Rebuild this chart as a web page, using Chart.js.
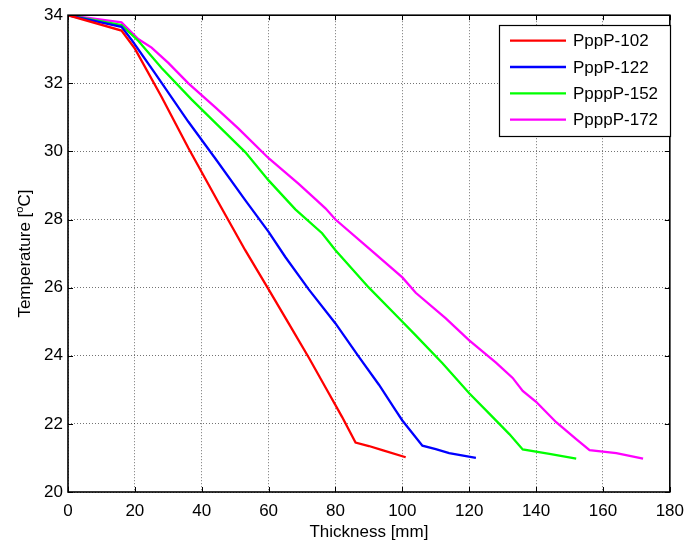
<!DOCTYPE html>
<html>
<head>
<meta charset="utf-8">
<script src="https://cdn.jsdelivr.net/npm/chart.js@4.4.0/dist/chart.umd.min.js"></script>
<style>
  body { margin: 0; background: #fff; }
  canvas { display: block; }
</style>
</head>
<body>
<canvas id="tempChart" width="693" height="544"></canvas>
<script>
// values
const redX = [0, 16, 20, 28, 36, 45, 53, 60, 66, 72, 78, 82, 86, 90, 94, 101];
const redY = [34, 33.55, 33.02, 31.6, 30.1, 28.5, 27.1, 25.95, 24.95, 23.95, 22.9, 22.2, 21.45, 21.35, 21.23, 21.02];

const blueX = [0, 16, 19, 26, 36, 44, 53, 60, 65, 72, 80, 87, 93, 98, 100, 106, 110, 114, 122];
const blueY = [34, 33.66, 33.28, 32.3, 30.87, 29.8, 28.57, 27.64, 26.9, 25.95, 24.95, 23.97, 23.15, 22.4, 22.1, 21.36, 21.26, 21.14, 21.0];

const greenX = [0, 16, 21, 28, 37, 45, 53, 60, 68, 76, 80, 90, 99, 104, 112, 120, 126, 132, 136, 144, 152];
const greenY = [34, 33.71, 33.25, 32.45, 31.52, 30.75, 29.98, 29.15, 28.3, 27.6, 27.1, 26.0, 25.1, 24.6, 23.78, 22.9, 22.3, 21.7, 21.25, 21.12, 20.98];

const magentaX = [0, 16, 21, 25, 30, 36, 44, 51, 60, 69, 74, 77, 80, 90, 100, 104, 113, 120, 128, 133, 136, 140, 146, 152, 156, 164, 172];
const magentaY = [34, 33.79, 33.3, 33.05, 32.6, 32.0, 31.3, 30.67, 29.8, 29.05, 28.6, 28.33, 28.0, 27.15, 26.3, 25.85, 25.1, 24.45, 23.8, 23.35, 22.97, 22.65, 22.05, 21.55, 21.23, 21.14, 20.98];

const seriesNames = ['PppP-102', 'PppP-122', 'PpppP-152', 'PpppP-172'];
const xTicks = [0, 20, 40, 60, 80, 100, 120, 140, 160, 180];
const yTicks = [20, 22, 24, 26, 28, 30, 32, 34];

const FONT = "'Liberation Sans', Arial, sans-serif";

const toPoints = (xs, ys) => xs.map((x, i) => ({ x: x, y: ys[i] }));

const makeSet = (label, xs, ys, color) => ({
  label: label,
  data: toPoints(xs, ys),
  borderColor: color,
  backgroundColor: color,
  borderWidth: 2.3,
  pointRadius: 0,
  tension: 0,
  fill: false
});

// axes box, inward ticks, y title and boxed legend like the original figure
const framePlugin = {
  id: 'frame',
  afterDatasetsDraw(chart) {
    const { ctx, chartArea: a, scales: { x, y } } = chart;
    ctx.save();

    ctx.strokeStyle = '#000';
    ctx.lineWidth = 1;
    ctx.beginPath();
    xTicks.forEach(v => {
      const px = Math.round(x.getPixelForValue(v)) + 0.5;
      ctx.moveTo(px, a.bottom); ctx.lineTo(px, a.bottom - 5);
      ctx.moveTo(px, a.top); ctx.lineTo(px, a.top + 5);
    });
    yTicks.forEach(v => {
      const py = Math.round(y.getPixelForValue(v)) + 0.5;
      ctx.moveTo(a.left, py); ctx.lineTo(a.left + 5, py);
      ctx.moveTo(a.right, py); ctx.lineTo(a.right - 5, py);
    });
    ctx.stroke();

    ctx.lineWidth = 1.6;
    ctx.strokeRect(a.left, a.top, a.right - a.left, a.bottom - a.top);

    // y axis title with a raised small "o"
    ctx.fillStyle = '#000';
    ctx.translate(25, (a.top + a.bottom) / 2);
    ctx.rotate(-Math.PI / 2);
    ctx.textBaseline = 'middle';
    const p1 = 'Temperature [', p3 = 'C]';
    ctx.font = '17px ' + FONT;
    const w1 = ctx.measureText(p1).width;
    const w3 = ctx.measureText(p3).width;
    ctx.font = '11px ' + FONT;
    const w2 = ctx.measureText('o').width;
    let sx = -(w1 + w2 + w3) / 2;
    ctx.font = '17px ' + FONT;
    ctx.textAlign = 'left';
    ctx.fillText(p1, sx, 0);
    ctx.font = '11px ' + FONT;
    ctx.fillText('o', sx + w1, -5);
    ctx.font = '17px ' + FONT;
    ctx.fillText(p3, sx + w1 + w2, 0);
    ctx.setTransform(1, 0, 0, 1, 0, 0);

    // legend
    const bx = 499.5, by = 25.5, bw = 171, bh = 111;
    ctx.fillStyle = '#fff';
    ctx.fillRect(bx, by, bw, bh);
    ctx.lineWidth = 1.2;
    ctx.strokeStyle = '#000';
    ctx.strokeRect(bx, by, bw, bh);
    ctx.font = '17px ' + FONT;
    ctx.textAlign = 'left';
    ctx.textBaseline = 'middle';
    chart.data.datasets.forEach((ds, i) => {
      const ry = 40.7 + i * 26.3;
      ctx.strokeStyle = ds.borderColor;
      ctx.lineWidth = 2.3;
      ctx.beginPath();
      ctx.moveTo(510, ry);
      ctx.lineTo(566, ry);
      ctx.stroke();
      ctx.fillStyle = '#000';
      ctx.fillText(ds.label, 573, ry + 1);
    });

    ctx.restore();
  }
};

const ctx = document.getElementById('tempChart').getContext('2d');

const tempChart = new Chart(ctx, {
  type: 'line',
  data: {
    datasets: [
      makeSet(seriesNames[0], redX, redY, '#ff0000'),
      makeSet(seriesNames[1], blueX, blueY, '#0000ff'),
      makeSet(seriesNames[2], greenX, greenY, '#00ff00'),
      makeSet(seriesNames[3], magentaX, magentaY, '#ff00ff')
    ]
  },
  options: {
    responsive: false,
    animation: false,
    layout: { padding: { top: 15, right: 17, left: 0, bottom: 0 } },
    plugins: {
      legend: { display: false },
      tooltip: { enabled: false }
    },
    scales: {
      x: {
        type: 'linear',
        min: 0,
        max: 180,
        afterBuildTicks: s => { s.ticks = xTicks.map(v => ({ value: v })); },
        afterFit: s => { s.height = 52; },
        ticks: {
          color: '#000',
          padding: 9,
          maxRotation: 0,
          font: { family: FONT, size: 17 }
        },
        grid: { color: 'rgba(0,0,0,0.55)', lineWidth: 1, drawTicks: false },
        border: { display: false, dash: [1, 2] },
        title: {
          display: true,
          text: 'Thickness [mm]',
          color: '#000',
          font: { family: FONT, size: 17 },
          padding: { top: 0, bottom: 1 }
        }
      },
      y: {
        type: 'linear',
        min: 20,
        max: 34,
        afterBuildTicks: s => { s.ticks = yTicks.map(v => ({ value: v })); },
        afterFit: s => { s.width = 68; },
        ticks: {
          color: '#000',
          padding: 5,
          font: { family: FONT, size: 17 }
        },
        grid: { color: 'rgba(0,0,0,0.55)', lineWidth: 1, drawTicks: false },
        border: { display: false, dash: [1, 2] }
      }
    }
  },
  plugins: [framePlugin]
});
</script>
</body>
</html>
